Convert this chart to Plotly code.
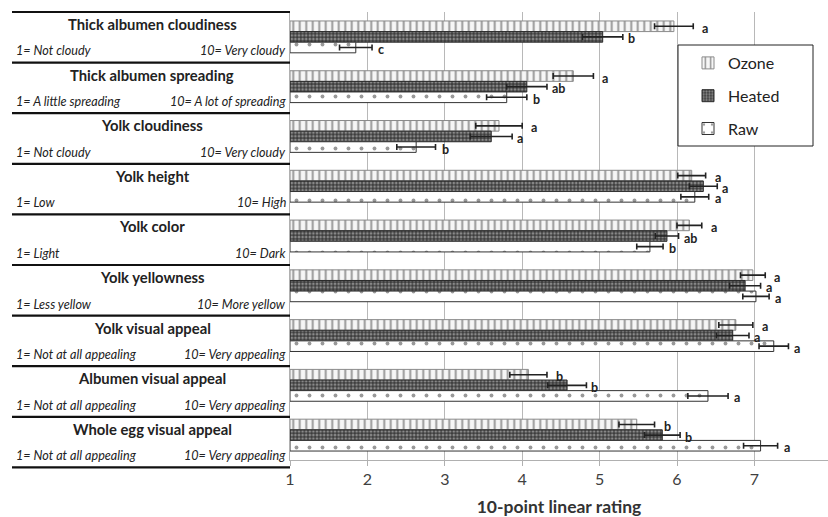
import plotly.graph_objects as go

categories = ["Thick albumen cloudiness", "Thick albumen spreading", "Yolk cloudiness",
              "Yolk height", "Yolk color", "Yolk yellowness", "Yolk visual appeal",
              "Albumen visual appeal", "Whole egg visual appeal"]
low_labels = ["1= Not cloudy", "1= A little spreading", "1= Not cloudy", "1= Low", "1= Light",
              "1= Less yellow", "1= Not at all appealing", "1= Not at all appealing",
              "1= Not at all appealing"]
high_labels = ["10= Very cloudy", "10= A lot of spreading", "10= Very cloudy", "10= High",
               "10= Dark", "10= More yellow", "10= Very appealing", "10= Very appealing",
               "10= Very appealing"]

ozone = [5.96, 4.66, 3.70, 6.19, 6.16, 6.98, 6.76, 4.08, 5.48]
ozone_err = [0.25, 0.26, 0.30, 0.18, 0.16, 0.16, 0.22, 0.24, 0.23]
ozone_letters = ["a", "a", "a", "a", "a", "a", "a", "b", "b"]

heated = [5.04, 4.06, 3.60, 6.34, 5.87, 6.88, 6.72, 4.58, 5.81]
heated_err = [0.26, 0.26, 0.27, 0.18, 0.15, 0.20, 0.21, 0.25, 0.23]
heated_letters = ["b", "ab", "a", "a", "ab", "a", "a", "b", "b"]

raw = [1.85, 3.80, 2.63, 6.23, 5.65, 7.02, 7.25, 6.40, 7.08]
raw_err = [0.21, 0.26, 0.25, 0.18, 0.17, 0.17, 0.19, 0.26, 0.22]
raw_letters = ["c", "b", "b", "a", "b", "a", "a", "a", "a"]

x_ticks = [1, 2, 3, 4, 5, 6, 7]

W, H = 828, 517
L, R, T, B = 290, 0, 12, 57
PW, PH = W - L - R, H - T - B
XMAX = 1 + PW / 77.4

def px_x(px):
    return (px - L) / PW

def px_y(py):
    return (H - B - py) / PH

FONT = "Lato"

series = [
    ("Ozone", ozone, ozone_err, ozone_letters, 7,
     dict(color="white", line=dict(color="#8a8a8a", width=1),
          pattern=dict(shape="|", fgcolor="#3a3a3a", bgcolor="#f6f6f6", size=6.5, solidity=0.3))),
    ("Heated", heated, heated_err, heated_letters, 3,
     dict(color="#3a3a3a", line=dict(color="#2a2a2a", width=1),
          pattern=dict(shape=".", fgcolor="#d8d8d8", bgcolor="#3c3c3c", size=3.6, solidity=0.45))),
    ("Raw", raw, raw_err, raw_letters, 4,
     dict(color="white", line=dict(color="#333333", width=1),
          pattern=dict(shape=".", fgcolor="#333333", bgcolor="white", size=13, solidity=0.07))),
]

fig = go.Figure()
for i, (name, vals, errs, lets, dx, mk) in enumerate(series):
    fig.add_trace(go.Bar(
        name=name, y=categories, x=[v - 1 for v in vals], base=1, orientation="h",
        marker=mk, legendgroup=name,
        error_x=dict(type="data", array=errs, visible=True, color="#222222", thickness=1.6, width=3),
        hoverinfo="skip",
    ))

annotations = []
bar_h = PH / len(categories) * 0.64 / 3
for i, (name, vals, errs, lets, dx, mk) in enumerate(series):
    for c, v, e, l in zip(categories, vals, errs, lets):
        annotations.append(dict(
            x=v + e, y=c, xref="x", yref="y", text="<b>" + l + "</b>", showarrow=False,
            xanchor="left", yanchor="middle", xshift=dx, yshift=(1 - i) * bar_h - 2,
            font=dict(family=FONT, size=12.5, color="#222222")))

shapes = []
step = 50.6
top = 12
for k in range(len(categories) + 1):
    yy = top + k * step
    shapes.append(dict(type="line", xref="paper", yref="paper", x0=px_x(12), x1=px_x(290),
                       y0=px_y(yy), y1=px_y(yy), line=dict(color="#111111", width=2.2)))

# legend frame
shapes.append(dict(type="rect", xref="paper", yref="paper", x0=px_x(678), x1=px_x(813),
                   y0=px_y(146), y1=px_y(45), line=dict(color="#222222", width=1),
                   fillcolor="white", layer="above"))

for k, c in enumerate(categories):
    yy = top + k * step
    annotations.append(dict(x=px_x(152), y=px_y(yy + 12), xref="paper", yref="paper",
                            text="<b>" + c + "</b>", showarrow=False, xanchor="center", yanchor="middle",
                            font=dict(family=FONT, size=14.8, color="#222222")))
    annotations.append(dict(x=px_x(14), y=px_y(yy + 39), xref="paper", yref="paper",
                            text="<i>" + low_labels[k] + "</i>", showarrow=False, xanchor="left", yanchor="middle",
                            font=dict(family=FONT, size=12.6, color="#222222")))
    annotations.append(dict(x=px_x(288), y=px_y(yy + 39), xref="paper", yref="paper",
                            text="<i>" + high_labels[k] + "</i>", showarrow=False, xanchor="right", yanchor="middle",
                            font=dict(family=FONT, size=12.6, color="#222222")))

fig.update_layout(
    width=W, height=H, margin=dict(l=L, r=R, t=T, b=B),
    paper_bgcolor="white", plot_bgcolor="white",
    barmode="group", bargap=0.36, bargroupgap=0,
    font=dict(family=FONT, color="#333333"),
    showlegend=True,
    legend=dict(x=px_x(688), y=px_y(46), xanchor="left", yanchor="top",
                borderwidth=0, bgcolor="rgba(0,0,0,0)",
                font=dict(family=FONT, size=16, color="#222222"),
                tracegroupgap=9, itemwidth=30),
    shapes=shapes, annotations=annotations,
    xaxis=dict(range=[1, XMAX], tickvals=x_ticks, showgrid=True, gridcolor="#b8b8b8", gridwidth=1,
               showline=True, linecolor="#b0b0b0", linewidth=1, ticks="outside", tickcolor="#b0b0b0",
               ticklen=5, tickfont=dict(family=FONT, size=16, color="#404040"), zeroline=False,
               title=dict(text="<b>10-point linear rating</b>", font=dict(family=FONT, size=17.5, color="#333333"),
                          standoff=13)),
    yaxis=dict(autorange="reversed", showticklabels=False, showline=True, linecolor="#b0b0b0",
               linewidth=1, ticks="", showgrid=False),
)

fig.write_html("out.html", config={"displayModeBar": False},
               post_script="document.body.style.margin='0';document.body.style.padding='0';")
